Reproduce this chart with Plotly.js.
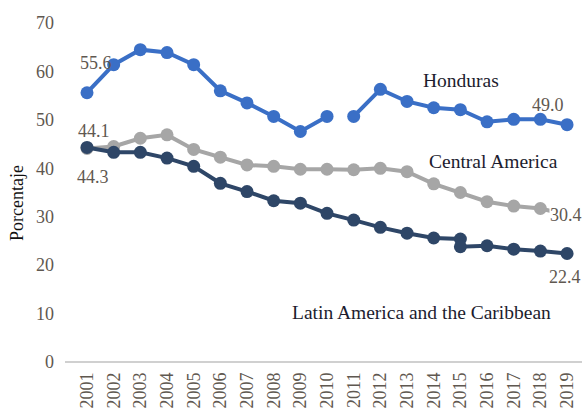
<!DOCTYPE html>
<html>
<head>
<meta charset="utf-8">
<script src="https://cdn.plot.ly/plotly-3.0.1.min.js"></script>
<style>html,body{margin:0;padding:0;background:#fff;}#chart{width:582px;height:416px;}</style>
</head>
<body>
<div id="chart"></div>
<script>
const years = [2001,2002,2003,2004,2005,2006,2007,2008,2009,2010,2011,2012,2013,2014,2015,2016,2017,2018,2019];
const honduras = [55.6,61.4,64.5,63.9,61.4,56.0,53.5,50.7,47.6,50.7,50.7,56.3,53.8,52.5,52.1,49.6,50.1,50.1,49.0];
const centralAmerica = [44.1,44.5,46.2,46.9,43.9,42.3,40.7,40.4,39.8,39.8,39.7,40.0,39.3,36.8,35.0,33.1,32.2,31.7,30.4];
const lacYears = [2001,2002,2003,2004,2005,2006,2007,2008,2009,2010,2011,2012,2013,2014,2015,2015,2016,2017,2018,2019];
const lac = [44.3,43.3,43.3,42.1,40.4,36.9,35.2,33.3,32.8,30.7,29.3,27.8,26.6,25.6,25.4,23.8,24.0,23.3,22.9,22.4];
const hondurasBreak = 10; // series break between 2010 and 2011
const tickYears = years.map(String);

const serif = "Liberation Serif, Times New Roman, serif";
const blue = "#3a6fc6", grey = "#a6a6a6", navy = "#2e4667";
function trace(x, y, color) {
  return {x: x, y: y, type: 'scatter', mode: 'lines+markers',
    line: {color: color, width: 4}, marker: {color: color, size: 13},
    hoverinfo: 'skip', showlegend: false, cliponaxis: false};
}
const data = [
  trace(years, centralAmerica, grey),
  trace(lacYears, lac, navy),
  trace(years.slice(0, hondurasBreak), honduras.slice(0, hondurasBreak), blue),
  trace(years.slice(hondurasBreak), honduras.slice(hondurasBreak), blue)
];
const lbl = "#5f5850";
const nameCol = "#1c1c2e";
function ann(text, x, y, color, size, bg) {
  return {text: text, x: x, y: y, xref: 'x', yref: 'y', showarrow: false,
    font: {family: serif, size: size, color: color}, bgcolor: bg || 'rgba(0,0,0,0)', borderpad: 0};
}
const layout = {
  width: 582, height: 416,
  margin: {l: 65, r: 0, t: 23, b: 54},
  paper_bgcolor: '#fff', plot_bgcolor: '#fff',
  font: {family: serif, size: 18, color: lbl},
  xaxis: {type: 'linear', range: [2000.175, 2019.56], tickvals: years, ticktext: tickYears,
    tickangle: -90, showgrid: false, zeroline: false, showline: false, ticks: '',
    ticklabelstandoff: 6, tickfont: {family: serif, size: 18, color: lbl}},
  yaxis: {range: [0, 70], dtick: 10, showgrid: false, zeroline: true, zerolinecolor: '#d0d0d0',
    zerolinewidth: 1.5, showline: false, ticks: '', ticklabelstandoff: 10,
    tickfont: {family: serif, size: 18, color: lbl}},
  annotations: [
    {text: 'Porcentaje', xref: 'paper', yref: 'paper', x: -0.093, y: 0.469, textangle: -90,
      xanchor: 'center', yanchor: 'middle',
      showarrow: false, font: {family: serif, size: 18, color: '#111'}},
    ann('55.6', 2001.34, 61.7, lbl, 18),
    ann('44.1', 2001.26, 47.7, lbl, 18),
    ann('44.3', 2001.22, 38.2, lbl, 18),
    ann('Honduras', 2015.02, 58.2, nameCol, 19.5),
    ann('49.0', 2018.29, 53.1, lbl, 18),
    ann('Central America', 2016.26, 41.3, nameCol, 19.5),
    ann('30.4', 2018.96, 30.3, lbl, 18, '#ffffff'),
    ann('22.4', 2018.92, 17.6, lbl, 18),
    ann('Latin America and the Caribbean', 2013.56, 10.3, nameCol, 19.5)
  ]
};
Plotly.newPlot('chart', data, layout, {staticPlot: true, displayModeBar: false});
</script>
</body>
</html>
